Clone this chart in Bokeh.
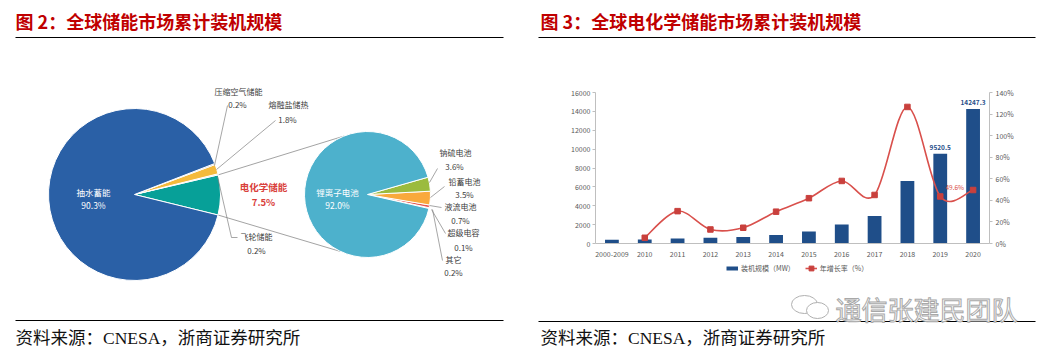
import math
from bokeh.plotting import figure
from bokeh.layouts import row, column
from bokeh.models import (Range1d, LinearAxis, FixedTicker, Legend, LegendItem,
                          PrintfTickFormatter)
from bokeh.core.properties import value
from bokeh.embed import file_html
from bokeh.resources import INLINE

# ---------------- data ----------------
left_title = "图 2：全球储能市场累计装机规模"
right_title = "图 3：全球电化学储能市场累计装机规模"
source_note = "资料来源：CNESA，浙商证券研究所"
watermark = "通信张建民团队"

# main pie, counter-clockwise starting at the lower edge of the electrochemical slice
main_labels = ["电化学储能", "飞轮储能", "熔融盐储热", "压缩空气储能", "抽水蓄能"]
main_share = [7.5, 0.2, 1.8, 0.2, 90.3]

# secondary pie (electrochemical breakdown), counter-clockwise
sub_labels = ["其它", "超级电容", "液流电池", "铅蓄电池", "钠硫电池", "锂离子电池"]
sub_share = [0.2, 0.1, 0.7, 3.5, 3.6, 92.0]

years = ["2000-2009", "2010", "2011", "2012", "2013", "2014", "2015", "2016",
         "2017", "2018", "2019", "2020"]
capacity_mw = [391, 412, 536, 606, 694, 899, 1277, 2018, 2926, 6630, 9520.5, 14247.3]
growth_pct = [None, 5.3, 30.0, 13.0, 14.6, 29.5, 42.0, 58.0, 45.0, 126.6, 43.6, 49.6]
mw_ticks = [0, 2000, 4000, 6000, 8000, 10000, 12000, 14000, 16000]
pct_ticks = [0, 20, 40, 60, 80, 100, 120, 140]
bar_label_years = ["2019", "2020"]
line_label_years = ["2020"]
legend_bar = "装机规模（MW）"
legend_line = "年增长率（%）"

# ---------------- styles / layout ----------------
CJK = "Noto Sans CJK SC"
SRC_FONT = "Liberation Serif, Noto Sans CJK SC"
TITLE_RED = "#C00000"
TXT = "#404040"
TICK_TXT = "#595959"
BAR_BLUE = "#1F4E89"
LINE_RED = "#D9504C"
MARK_RED = "#C9403D"
main_colors = ["#07A098", "#A5A5A5", "#F4BA3C", "#7F7F7F", "#2A60A6"]
sub_colors = ["#A5A5A5", "#7F7F7F", "#E8554E", "#F9A93C", "#9BBB3E", "#4DB1CC"]

W_L, W_R, H = 525, 528, 357
MAIN_C, MAIN_R, MAIN_START = (134, 194), 86, -13.8
SUB_C, SUB_R, SUB_START = (367, 194), 63, -13.2
H_RT, H_C = 80, 179
H_RB = H - H_RT - H_C
NAN = float("nan")


def px_fig(w, h):
    p = figure(width=w, height=h, x_range=Range1d(0, w), y_range=Range1d(0, h),
               output_backend="svg", toolbar_location=None, min_border=0,
               x_axis_location=None, y_axis_location=None)
    p.xgrid.visible = False
    p.ygrid.visible = False
    p.outline_line_color = None
    p.frame_align = False
    return p


def angles(shares, start_deg):
    s, e = [], []
    a = math.radians(start_deg)
    for v in shares:
        b = a + math.radians(v * 3.6)
        s.append(a)
        e.append(b)
        a = b
    return s, e


def ptxt(p, h, x, y, text, size, color=TXT, align="center", bold=False, font=CJK):
    p.text(x=x, y=[h - v for v in y], text=text, text_font=value(font),
           text_font_size=size, text_color=color, text_align=align,
           text_baseline="middle", text_font_style="bold" if bold else "normal")


# ================= LEFT PANEL =================
L = px_fig(W_L, H)
ptxt(L, H, [15], [20], [left_title], "18px", TITLE_RED, "left", True)
L.line([15, 503], [H - 37, H - 37], line_color="black", line_width=1.2)
L.line([15, 503], [H - 320, H - 320], line_color="black", line_width=1.2)
ptxt(L, H, [15], [337], [source_note], "17.5px", "#111111", "left", font=SRC_FONT)

# connectors between pies
ms, me = angles(main_share, MAIN_START)
top_l = (MAIN_C[0] + MAIN_R * math.cos(me[0]), MAIN_C[1] - MAIN_R * math.sin(me[0]))
bot_l = (MAIN_C[0] + MAIN_R * math.cos(ms[0]), MAIN_C[1] - MAIN_R * math.sin(ms[0]))
top_r = (SUB_C[0] + SUB_R * math.cos(math.radians(112)), SUB_C[1] - SUB_R * math.sin(math.radians(112)))
bot_r = (SUB_C[0] + SUB_R * math.cos(math.radians(-115)), SUB_C[1] - SUB_R * math.sin(math.radians(-115)))
L.multi_line(xs=[[top_l[0], top_r[0]], [bot_l[0], bot_r[0]]],
             ys=[[H - top_l[1], H - top_r[1]], [H - bot_l[1], H - bot_r[1]]],
             line_color="#8C8C8C", line_width=0.8)

L.wedge(x=MAIN_C[0], y=H - MAIN_C[1], radius=MAIN_R, start_angle=ms, end_angle=me,
        fill_color=main_colors, line_color="white", line_width=1)
ss, se = angles(sub_share, SUB_START)
L.wedge(x=SUB_C[0], y=H - SUB_C[1], radius=SUB_R, start_angle=ss, end_angle=se,
        fill_color=sub_colors, line_color="white", line_width=1)

# leader lines
leaders = [
    [(227, 105), (214, 165)],
    [(275, 120), (216, 169)],
    [(237, 237), (231, 237), (217, 176)],
    [(437, 168), (429, 182)],
    [(444, 186), (430, 197)],
    [(441, 207), (429, 205)],
    [(445, 233), (431, 209)],
    [(442, 260), (432, 209)],
]
L.multi_line(xs=[[a for a, b in seg] for seg in leaders],
             ys=[[H - b for a, b in seg] for seg in leaders],
             line_color="#7F7F7F", line_width=0.7)

pct = lambda v: f"{v:.1f}%"
main_pos = {"抽水蓄能": ((93, 191), (93, 204)),
            "压缩空气储能": ((238, 91), (237, 104)),
            "熔融盐储热": ((288, 104), (287, 119)),
            "飞轮储能": ((256, 236), (256, 250)),
            "电化学储能": ((263, 186), (263, 201))}
sub_pos = {"锂离子电池": ((337, 191), (337, 204)),
           "钠硫电池": ((455, 152), (454, 166)),
           "铅蓄电池": ((464, 181), (464, 194)),
           "液流电池": ((460, 206), (460, 220)),
           "超级电容": ((463, 232), (463, 247)),
           "其它": ((453, 259), (453, 272))}

for lab, v in zip(main_labels, main_share):
    (nx, ny), (vx, vy) = main_pos[lab]
    if lab == "抽水蓄能":
        ptxt(L, H, [nx, vx], [ny, vy], [lab, pct(v)], "8.5px", "white")
    elif lab == "电化学储能":
        ptxt(L, H, [nx, vx], [ny, vy], [lab, pct(v)], "9.5px", "#D9413C", bold=True)
    else:
        ptxt(L, H, [nx, vx], [ny, vy], [lab, pct(v)], "8px")
for lab, v in zip(sub_labels, sub_share):
    (nx, ny), (vx, vy) = sub_pos[lab]
    col = "white" if lab == "锂离子电池" else TXT
    size = "8.5px" if lab == "锂离子电池" else "8px"
    ptxt(L, H, [nx, vx], [ny, vy], [lab, pct(v)], size, col)

# ================= RIGHT PANEL =================
RT = px_fig(W_R, H_RT)
ptxt(RT, H_RT, [15], [20], [right_title], "18px", TITLE_RED, "left", True)
RT.line([13, 510], [H_RT - 37, H_RT - 37], line_color="black", line_width=1.2)

C = figure(width=W_R, height=H_C, x_range=Range1d(-0.5, 11.5), y_range=Range1d(0, 16000),
           output_backend="svg", toolbar_location=None,
           min_border_left=70, min_border_right=64, min_border_top=12,
           min_border_bottom=H_RT + H_C - 243)
C.frame_align = False
C.extra_y_ranges = {"pct": Range1d(0, 140)}
C.add_layout(LinearAxis(y_range_name="pct"), "right")
C.grid.visible = False
C.outline_line_color = None

idx = list(range(len(years)))
C.vbar(x=idx, top=capacity_mw, width=0.42, fill_color=BAR_BLUE, line_color=None)

gi = [i for i, g in enumerate(growth_pct) if g is not None]
gv = [growth_pct[i] for i in gi]
n = len(gi)
bx0, by0, bx1, by1, cx0, cy0, cx1, cy1 = [], [], [], [], [], [], [], []
for k in range(n - 1):
    km, kp = max(k - 1, 0), min(k + 2, n - 1)
    bx0.append(gi[k]); by0.append(gv[k]); bx1.append(gi[k + 1]); by1.append(gv[k + 1])
    cx0.append(gi[k] + (gi[k + 1] - gi[km]) / 6); cy0.append(gv[k] + (gv[k + 1] - gv[km]) / 6)
    cx1.append(gi[k + 1] - (gi[kp] - gi[k]) / 6); cy1.append(gv[k + 1] - (gv[kp] - gv[k]) / 6)
C.bezier(x0=bx0, y0=by0, x1=bx1, y1=by1, cx0=cx0, cy0=cy0, cx1=cx1, cy1=cy1,
         line_color=LINE_RED, line_width=1.6, y_range_name="pct")
C.scatter(x=gi, y=gv, marker="square", size=5.5, fill_color=MARK_RED,
          line_color=MARK_RED, y_range_name="pct")

bl = [years.index(y) for y in bar_label_years]
C.text(x=bl, y=[capacity_mw[i] for i in bl], text=[f"{capacity_mw[i]:.1f}" for i in bl],
       text_align="center", text_baseline="bottom", y_offset=-4, text_font=value(CJK),
       text_font_size="6.5px", text_font_style="bold", text_color=BAR_BLUE)
ll = [years.index(y) for y in line_label_years]
C.text(x=ll, y=[growth_pct[i] for i in ll], text=[f"{growth_pct[i]:.1f}%" for i in ll],
       text_align="right", text_baseline="middle", x_offset=-9, y_offset=-3,
       y_range_name="pct", text_font=value(CJK), text_font_size="6.5px", text_color=LINE_RED)

for ax in C.axis:
    ax.axis_line_color = "#BFBFBF"
    ax.major_tick_line_color = "#BFBFBF"
    ax.minor_tick_line_color = None
    ax.major_tick_out = 3
    ax.major_tick_in = 0
    ax.major_label_text_font = CJK
    ax.major_label_text_font_size = "7px"
    ax.major_label_text_color = TICK_TXT
    ax.major_label_standoff = 2
C.xaxis.ticker = FixedTicker(ticks=idx)
C.xaxis.major_label_overrides = {i: y for i, y in enumerate(years)}
C.xaxis.major_tick_line_color = None
C.xaxis.major_label_standoff = 4
C.yaxis[0].ticker = FixedTicker(ticks=mw_ticks)
C.yaxis[1].ticker = FixedTicker(ticks=pct_ticks)
C.yaxis[1].formatter = PrintfTickFormatter(format="%d%%")
C.yaxis[1].major_label_standoff = 3

# ---- bottom strip: legend, rule, source, watermark ----
RB = px_fig(W_R, H_RB)
key_bar = RB.line(x=[NAN], y=[NAN], line_color=BAR_BLUE, line_width=4, line_cap="butt")
key_line = RB.line(x=[NAN], y=[NAN], line_color=LINE_RED, line_width=1.6)
key_pts = RB.scatter(x=[NAN], y=[NAN], marker="square", size=5.5,
                     fill_color=MARK_RED, line_color=MARK_RED)
legend = Legend(items=[LegendItem(label=legend_bar, renderers=[key_bar]),
                       LegendItem(label=legend_line, renderers=[key_line, key_pts])],
                orientation="horizontal", location=(201, H_RB - 15),
                label_text_font=CJK, label_text_font_size="7px",
                label_text_color=TICK_TXT, glyph_width=12, glyph_height=12,
                label_height=8, label_standoff=3, spacing=10, padding=1, margin=0,
                border_line_color=None, background_fill_alpha=0)
RB.add_layout(legend, "center")

off = H_RT + H_C
RB.line([13, 510], [H_RB - (321 - off)] * 2, line_color="black", line_width=1.2)
ptxt(RB, H_RB, [15], [337 - off], [source_note], "17.5px", "#111111", "left", font=SRC_FONT)
wy = 308 - off
RB.ellipse(x=[279, 292], y=[H_RB - wy + 4, H_RB - wy - 2], width=[26, 22], height=[18, 16],
           fill_color="white", line_color="#B0B0B0", line_width=1)
RB.text(x=[310], y=[H_RB - wy], text=[watermark], text_font=value(CJK),
        text_font_size="26px", text_color="white", text_outline_color="#A8A8A8",
        text_baseline="middle")

layout = row(L, column(RT, C, RB))
open("out.html", "w").write(file_html(layout, INLINE))
